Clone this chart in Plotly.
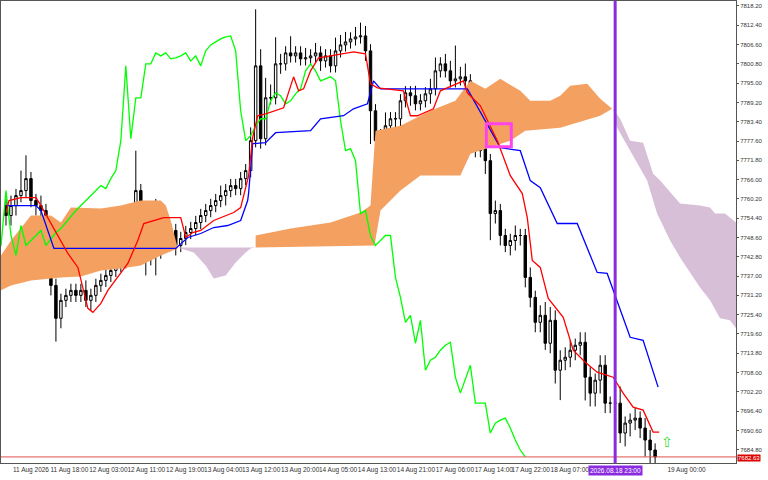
import plotly.graph_objects as go

# H1 closes, one per bar (bar 0 .. 130)
closes = [
    7755.2, 7758.2, 7761.2, 7762.7, 7766.3, 7759.7, 7758.2, 7756.7, 7743.2, 7734.2,
    7724.3, 7729.7, 7731.2, 7732.7, 7731.2, 7732.7, 7729.7, 7731.2, 7734.2, 7735.7,
    7737.2, 7738.7, 7740.2, 7742.3, 7744.7, 7746.2, 7762.7, 7749.2, 7743.2, 7752.2,
    7746.2, 7747.7, 7749.2, 7750.7, 7746.2, 7748.3, 7750.1, 7751.3, 7753.1, 7755.2,
    7756.7, 7758.2, 7759.7, 7761.2, 7762.7, 7764.2, 7763.3, 7766.3, 7768.7, 7777.7,
    7800.2, 7778.3, 7790.6, 7790.6, 7800.8, 7800.8, 7804.1, 7803.2, 7804.1, 7802.3,
    7802.6, 7803.2, 7804.1, 7801.7, 7803.2, 7800.2, 7804.7, 7806.5, 7807.4, 7808.3,
    7808.9, 7809.2, 7804.7, 7786.7, 7777.7, 7779.2, 7782.2, 7784.3, 7784.3, 7789.7,
    7792.1, 7791.2, 7788.8, 7789.7, 7791.8, 7793.3, 7798.7, 7800.8, 7798.7, 7795.7,
    7796.3, 7796.9, 7795.7, 7783.7, 7774.7, 7775.3, 7771.7, 7755.8, 7756.7, 7749.2,
    7746.2, 7747.7, 7749.2, 7749.2, 7736.6, 7730.6, 7723.1, 7725.2, 7716.8, 7723.7,
    7708.7, 7711.7, 7712.6, 7714.7, 7716.2, 7717.1, 7706.6, 7701.8, 7705.7, 7710.2,
    7698.8, 7698.8, 7698.8, 7689.8, 7692.8, 7693.7, 7694.3, 7691.3, 7687.7, 7684.7,
    7682.63,
]
up_wick = [
    2, 3, 2, 6, 7, 2, 2, 3, 2, 2,
    2, 2, 2, 2, 2, 2, 3, 2, 2, 2,
    2, 2, 2, 2, 3, 3, 12, 2, 3, 5,
    8, 3, 2, 2, 2, 2, 2, 2, 2, 2,
    2, 2, 2, 3, 2, 2, 2, 2, 2, 4,
    17, 5, 6, 4, 8, 3, 2, 5, 2, 2,
    3, 2, 3, 2, 2, 2, 4, 3, 3, 2,
    3, 4, 3, 2, 2, 2, 4, 2, 2, 2,
    2, 2, 3, 2, 2, 3, 4, 2, 3, 3,
    10, 3, 4, 2, 2, 4, 2, 2, 3, 2,
    2, 2, 3, 2, 2, 3, 2, 3, 4, 4,
    3, 3, 3, 3, 2, 3, 3, 3, 2, 3,
    3, 2, 3, 5, 2, 2, 3, 2, 3, 3,
    2,
]
dn_wick = [
    3, 3, 3, 2, 2, 2, 3, 2, 3, 3,
    7, 3, 2, 2, 2, 2, 2, 3, 2, 2,
    2, 2, 2, 2, 3, 3, 3, 8, 6, 3,
    9, 4, 3, 2, 3, 2, 2, 2, 2, 2,
    2, 2, 2, 2, 3, 2, 2, 2, 2, 2,
    2, 3, 2, 2, 2, 3, 2, 2, 2, 2,
    2, 2, 2, 3, 2, 2, 2, 2, 2, 2,
    2, 2, 3, 10, 7, 4, 6, 4, 3, 3,
    2, 3, 2, 2, 2, 3, 2, 2, 2, 2,
    2, 2, 2, 3, 2, 2, 4, 8, 3, 3,
    2, 3, 3, 3, 3, 3, 3, 3, 2, 3,
    4, 9, 3, 3, 3, 3, 7, 4, 4, 4,
    3, 3, 4, 3, 4, 4, 3, 3, 5, 4,
    4,
]
first_open = 7758.2

# Tenkan-sen / Kijun-sen breakpoints (bar, price)
tenkan_x = [0, 0.6, 3, 6, 7, 12.4, 14.4, 16.4, 17.4, 19, 20.4, 22.4, 24.4, 26.4, 27.6, 31.6, 35, 36,
            37.4, 39, 41.6, 45.6, 47, 48.6, 49.4, 50.4, 52, 55.6, 57.6, 58.6, 59.6, 61, 62.6, 65,
            69.6, 72, 73, 74.4, 79.6, 81, 82.4, 85.6, 87, 91.6, 92.4, 95, 98.4, 101, 103.4, 104.4,
            105.4, 107, 108.6, 111.6, 113.6, 116, 118.4, 121.6, 123.6, 125.6, 127.6, 129.6, 130.8]
tenkan_y = [7756.1, 7759.7, 7760.6, 7760.6, 7758.2, 7743.8, 7739.6, 7727.3, 7726.1, 7728.8, 7732.7,
            7736.6, 7740.8, 7747.7, 7752.8, 7754.6, 7754.6, 7748.6, 7750.1, 7750.7, 7753.7, 7756.1,
            7757.6, 7767.2, 7778.6, 7785.2, 7785.8, 7787.6, 7796.9, 7792.7, 7793.3, 7798.7, 7802.6,
            7803.2, 7804.4, 7803.8, 7794.8, 7793.6, 7792.7, 7785.2, 7785.2, 7787.3, 7792.7, 7795.7,
            7792.1, 7788.2, 7777.7, 7767.2, 7761.8, 7754.6, 7741.7, 7739.6, 7730.3, 7724.6, 7714.7,
            7711.1, 7708.1, 7706.6, 7701.8, 7697.6, 7696.7, 7690.1, 7690.1]
kijun_x = [0, 6, 7, 9.6, 34, 36.4, 39, 41.6, 44.4, 47, 48.4, 48.6, 49.4, 52, 54, 61, 63, 67.6, 69.6,
           72.4, 73.6, 75, 92.4, 96.4, 99, 103, 105, 107, 110.4, 114.4, 118.4, 120.4, 125, 127.6, 130.6]
kijun_y = [7758.2, 7758.2, 7756.7, 7745.3, 7745.3, 7748.6, 7749.8, 7751.6, 7752.2, 7753.7, 7759.7,
           7762.1, 7776.8, 7777.1, 7780.1, 7780.7, 7784.3, 7785.2, 7787.3, 7788.8, 7795.7, 7793.3,
           7793.3, 7782.8, 7775.6, 7774.7, 7765.7, 7763.6, 7752.8, 7752.8, 7738.1, 7737.8, 7718.6,
           7717.7, 7703.6]

# Kumo outlines: upper edge left->right, lower edge right->left
kumo_up_1_x = [-1, 1, 5, 9, 11, 13, 19, 23, 27, 31, 32, 33, 34.4]
kumo_up_1_y = [7743.2, 7747.7, 7755.2, 7755.2, 7753.1, 7757.6, 7757.3, 7758.2, 7759.7, 7759.7, 7758.2, 7753.7, 7745.3]
kumo_lo_1_x = [31, 27, 23, 19, 15, 11, 5, 1, -1]
kumo_lo_1_y = [7743.2, 7740.2, 7739.3, 7738.7, 7736.9, 7736.6, 7735.7, 7734.2, 7732.7]

kumo_dn_1_x = [34.4, 50, 49, 48, 46, 44, 41.6, 40, 37.6, 35]
kumo_dn_1_y = [7745.6, 7745.6, 7745.3, 7744.1, 7741.1, 7737.2, 7736.3, 7740.2, 7744.1, 7745.3]

kumo_up_2_x = [50, 57, 65, 71, 73, 73.4, 74, 79, 85, 90, 93, 96, 99, 103, 105, 109, 111, 113, 116.4, 119, 121.4]
kumo_up_2_y = [7749.2, 7751.3, 7753.1, 7756.1, 7758.2, 7767.2, 7780.7, 7782.2, 7786.7, 7789.7, 7795.7,
               7793.3, 7796.3, 7792.7, 7789.7, 7789.7, 7791.2, 7794.2, 7794.8, 7790.3, 7787.3]
kumo_lo_2_x = [119, 111, 104, 101, 93, 91, 83, 79, 75, 73.8, 50]
kumo_lo_2_y = [7785.2, 7781.6, 7780.7, 7777.7, 7773.8, 7767.2, 7767.2, 7762.7, 7756.7, 7746.2, 7745.6]

kumo_dn_2_x = [121.6, 123, 125, 127.6, 129.6, 131, 135, 139, 141, 142, 144, 146.2,
               146.2, 145, 143, 141, 139, 135, 133, 130.4, 128.4, 123.6, 122.4]
kumo_dn_2_y = [7787.3, 7784.3, 7777.7, 7777.1, 7767.8, 7765.7, 7758.8, 7758.2, 7757.6, 7755.8, 7755.8, 7753.1,
               7721.3, 7723.7, 7724.3, 7729.7, 7733.6, 7742.6, 7747.7, 7755.8, 7765.7, 7778.6, 7781.6]

y_ticks = [7818.20, 7812.40, 7806.60, 7800.80, 7795.00, 7789.20, 7783.40, 7777.60, 7771.80, 7766.00,
           7760.20, 7754.40, 7748.60, 7742.80, 7737.00, 7731.20, 7725.40, 7719.60, 7713.80, 7708.00,
           7702.20, 7696.40, 7690.60, 7684.80]
x_tick_bars = [-0.5, 7.2, 15, 22.6, 30.4, 38, 45.6, 53.4, 61, 68.8, 76.6, 84.4, 92.2, 99.6, 107.4, 130.8]
x_tick_labels = ["11 Aug 2026", "11 Aug 18:00", "12 Aug 03:00", "12 Aug 11:00", "12 Aug 19:00",
                 "13 Aug 04:00", "13 Aug 12:00", "13 Aug 20:00", "14 Aug 05:00", "14 Aug 13:00",
                 "14 Aug 21:00", "17 Aug 06:00", "17 Aug 14:00", "17 Aug 22:00", "18 Aug 07:00",
                 "19 Aug 00:00"]

bars = list(range(len(closes)))
opens = [first_open] + closes[:-1]
highs = [max(o, c) + w for o, c, w in zip(opens, closes, up_wick)]
lows = [min(o, c) - w for o, c, w in zip(opens, closes, dn_wick)]

fig = go.Figure()

orange = "rgba(244,160,96,1)"
thistle = "rgba(216,191,216,1)"
for xs, ys, col in [
    (kumo_up_1_x + kumo_lo_1_x, kumo_up_1_y + kumo_lo_1_y, orange),
    (kumo_dn_1_x, kumo_dn_1_y, thistle),
    (kumo_up_2_x + kumo_lo_2_x, kumo_up_2_y + kumo_lo_2_y, orange),
    (kumo_dn_2_x, kumo_dn_2_y, thistle),
]:
    fig.add_trace(go.Scatter(x=xs, y=ys, fill="toself", fillcolor=col, mode="lines",
                             line=dict(width=0, color=col), hoverinfo="skip", showlegend=False))

# chikou span = close shifted 26 bars back
fig.add_trace(go.Scatter(x=[b - 26 for b in bars], y=closes, mode="lines",
                         line=dict(color="#00ff00", width=1.3), showlegend=False))
fig.add_trace(go.Scatter(x=kijun_x, y=kijun_y, mode="lines",
                         line=dict(color="#0000ff", width=1.3), showlegend=False))
fig.add_trace(go.Scatter(x=tenkan_x, y=tenkan_y, mode="lines",
                         line=dict(color="#ff0000", width=1.3), showlegend=False))

fig.add_trace(go.Candlestick(
    x=bars, open=opens, high=highs, low=lows, close=closes,
    increasing=dict(line=dict(color="#000000", width=1), fillcolor="#ffffff"),
    decreasing=dict(line=dict(color="#000000", width=1), fillcolor="#000000"),
    whiskerwidth=0, showlegend=False,
))

last = closes[-1]
fig.add_hline(y=last, line=dict(color="#e05050", width=1))
fig.add_vline(x=122, line=dict(color="#8a2be2", width=3))
fig.add_shape(type="rect", x0=96.2, x1=101.2, y0=7775.9, y1=7782.8,
              line=dict(color="#ff44ee", width=3))
fig.add_annotation(x=132.4, y=7687, text="⇧", showarrow=False,
                   font=dict(color="#33dd33", size=14))
fig.add_annotation(x=1.0, xref="paper", y=last, xanchor="left", yanchor="top", text=f"{last:.2f}",
                   showarrow=False, bgcolor="#dd0000", font=dict(color="white", size=6),
                   borderpad=0, yshift=3, xshift=1)
fig.add_annotation(x=122, y=0, yref="paper", yanchor="top", text="2026.08.18 23:00",
                   showarrow=False, bgcolor="#8a2be2", font=dict(color="white", size=6.5),
                   borderpad=1, yshift=-2)

fig.update_layout(
    width=768, height=480,
    margin=dict(l=1, r=32, t=1, b=17),
    paper_bgcolor="white", plot_bgcolor="white",
    font=dict(family="Liberation Sans, DejaVu Sans", size=6, color="#333333"),
    xaxis=dict(range=[-1, 146.2], rangeslider=dict(visible=False), showgrid=False,
               zeroline=False, tickvals=[b + 5.5 for b in x_tick_bars], ticktext=x_tick_labels,
               tickangle=0, automargin=False,
               showline=True, linecolor="#555555", mirror=True, ticks="", tickfont=dict(size=6.5)),
    yaxis=dict(range=[7680.8, 7819.7], side="right", showgrid=False, zeroline=False,
               tickvals=y_ticks, ticktext=[f"{v:.2f}" for v in y_ticks], automargin=False,
               showline=True, linecolor="#555555", mirror=True, ticks="outside", ticklen=2,
               tickcolor="#555555", tickfont=dict(size=6)),
)

fig.write_html("out.html", config={"displayModeBar": False},
               post_script="document.body.style.margin='0';")
